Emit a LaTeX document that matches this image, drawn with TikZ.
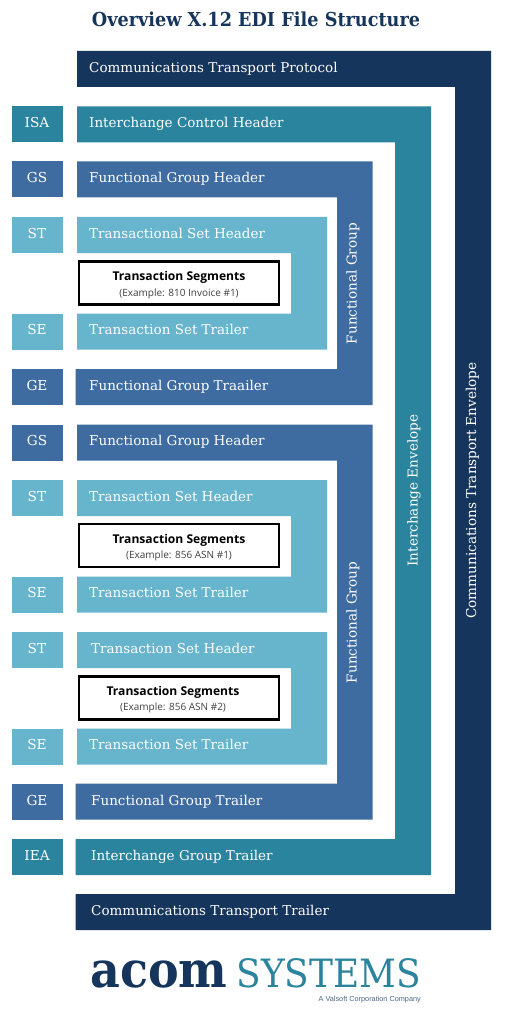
\documentclass[tikz,border=0pt]{standalone}
\usepackage{fontspec}
\setmainfont{Open Sans}
\newfontfamily\slab{DejaVu Serif}
\newfontfamily\slabb[FakeStretch=0.92]{DejaVu Serif}
\newfontfamily\opn{Open Sans}
\newfontfamily\sans{Liberation Sans}
\definecolor{cdark}{HTML}{16355C}
\definecolor{cteal}{HTML}{2A849E}
\definecolor{cblue}{HTML}{3F6CA0}
\definecolor{clight}{HTML}{67B5CD}
\tikzset{
  lab/.style={inner sep=0pt,anchor=base west,text=white,yshift=-0.8pt,font=\slab\fontsize{13.5}{15}\selectfont},
  rot/.style={inner sep=0pt,anchor=base,rotate=90,text=white,font=\slab\fontsize{13.6}{15}\selectfont},
  tag/.style={inner sep=0pt,anchor=center,minimum width=51pt,minimum height=36pt,text=white,font=\slab\fontsize{13.7}{15}\selectfont},
  tagtext/.style={inner sep=0pt,anchor=base,text=white,yshift=-0.8pt,font=\slab\fontsize{13.7}{15}\selectfont},
  seg/.style={draw=black,line width=2.4pt,fill=white,inner sep=0pt,minimum width=200pt,minimum height=43pt,anchor=center},
  segb/.style={inner sep=0pt,anchor=base,text=black,font=\opn\bfseries\fontsize{12.1}{14}\selectfont},
  segs/.style={inner sep=0pt,anchor=base,text=black!75,font=\opn\fontsize{10}{12}\selectfont},
}
% top y, bottom-bar top y, left-top x, left-bottom x, outer right, inner right
\newcommand{\cband}[7]{\fill[#1] (#4,#2) -- (#6,#2) -- (#6,#3+36) -- (#5,#3+36) -- (#5,#3) -- (#7,#3) -- (#7,#2+36) -- (#4,#2+36) -- cycle;}
\begin{document}
\begin{tikzpicture}[x=1pt,y=-1pt]
\useasboundingbox (0,0) rectangle (512,1024);
\fill[white] (0,0) rectangle (512,1024);
\node[inner sep=0pt,anchor=base,text=cdark,font=\slabb\bfseries\fontsize{19.2}{22}\selectfont] (title) at (256,27) {Overview X.12 EDI File Structure};
% bands
\cband{cdark}{51}{894}{77}{75.5}{491}{455}
\cband{cteal}{106.5}{839}{77}{75.5}{431}{395}
\cband{cblue}{161.5}{369}{77}{75.5}{372.5}{337}
\cband{cblue}{424.5}{783.5}{77}{75.5}{372.5}{337}
\cband{clight}{217}{313.5}{77}{77}{327}{291}
\cband{clight}{480}{576.5}{77}{77}{327}{291}
\cband{clight}{632}{728.5}{77}{77}{327}{291}
% tags
\node[tag,fill=cteal] (isa) at (37,124.5) {};
\node[tag,fill=cblue] (gs1) at (37,179.5) {};
\node[tag,fill=clight] (st1) at (37,235) {};
\node[tag,fill=clight] (se1) at (37,331.5) {};
\node[tag,fill=cblue] (ge1) at (37,387) {};
\node[tag,fill=cblue] (gs2) at (37,442.5) {};
\node[tag,fill=clight] (st2) at (37,498) {};
\node[tag,fill=clight] (se2) at (37,594.5) {};
\node[tag,fill=clight] (st3) at (37,650) {};
\node[tag,fill=clight] (se3) at (37,746.5) {};
\node[tag,fill=cblue] (ge2) at (37,801.5) {};
\node[tag,fill=cteal] (iea) at (37,857) {};
\node[tagtext] (isat) at (37,127) {ISA};
\node[tagtext] (gs1t) at (37,182) {GS};
\node[tagtext] (st1t) at (37,237.5) {ST};
\node[tagtext] (se1t) at (37,334) {SE};
\node[tagtext] (ge1t) at (37,390) {GE};
\node[tagtext] (gs2t) at (37,445) {GS};
\node[tagtext] (st2t) at (37,500.5) {ST};
\node[tagtext] (se2t) at (37,597) {SE};
\node[tagtext] (st3t) at (37,653) {ST};
\node[tagtext] (se3t) at (37,749) {SE};
\node[tagtext] (ge2t) at (37,805) {GE};
\node[tagtext] (ieat) at (37,860) {IEA};
% labels
\node[lab] (t1) at (89,72) {Communications Transport Protocol};
\node[lab] (t2) at (89,127) {Interchange Control Header};
\node[lab] (t3) at (89,182) {Functional Group Header};
\node[lab] (t4) at (89,237.5) {Transactional Set Header};
\node[lab] (t5) at (89,334) {Transaction Set Trailer};
\node[lab] (t6) at (89,390) {Functional Group Traailer};
\node[lab] (t7) at (89,445) {Functional Group Header};
\node[lab] (t8) at (89,500.5) {Transaction Set Header};
\node[lab] (t9) at (89,597) {Transaction Set Trailer};
\node[lab] (t10) at (91,653) {Transaction Set Header};
\node[lab] (t11) at (89,749) {Transaction Set Trailer};
\node[lab] (t12) at (91,805) {Functional Group Trailer};
\node[lab] (t13) at (91,860) {Interchange Group Trailer};
\node[lab] (t14) at (91,915) {Communications Transport Trailer};
% rotated
\node[rot] (r1) at (356.5,283.5) {Functional Group};
\node[rot] (r2) at (356.5,622.5) {Functional Group};
\node[rot] (r3) at (417.5,490.5) {Interchange Envelope};
\node[rot] (r4) at (476,490.5) {Communications Transport Envelope};
% segment boxes
\node[seg] (b1) at (179,283) {};
\node[seg] (b2) at (179,545.5) {};
\node[seg] (b3) at (179,698) {};
\node[segb] (b1a) at (179,280.5) {Transaction Segments};
\node[segs] (b1b) at (179,296) {(Example: 810 Invoice \#1)};
\node[segb] (b2a) at (179,543) {Transaction Segments};
\node[segs] (b2b) at (179,558.5) {(Example: 856 ASN \#1)};
\node[segb] (b3a) at (173,695) {Transaction Segments};
\node[segs] (b3b) at (173,710.5) {(Example: 856 ASN \#2)};
% logo
\node[inner sep=0pt,anchor=base west,text=cdark,font=\slabb\bfseries\fontsize{50}{54}\selectfont] (acom) at (90,987) {acom};
\node[inner sep=0pt,anchor=base east,text=cteal,font=\slabb\fontsize{39}{42}\selectfont] (sys) at (421,987) {SYSTEMS};
\node[inner sep=0pt,anchor=base east,text=cdark!75,font=\sans\fontsize{7.3}{9}\selectfont] (val) at (421,1001) {A Valsoft Corporation Company};
\end{tikzpicture}
\end{document}
